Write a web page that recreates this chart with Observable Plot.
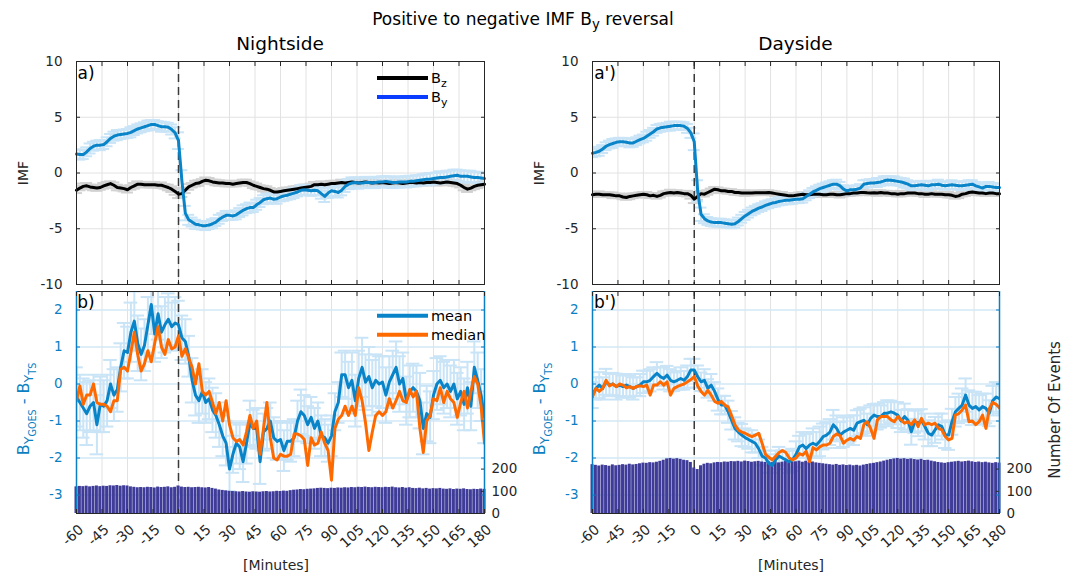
<!DOCTYPE html>
<html>
<head>
<meta charset="utf-8">
<script src="https://cdn.jsdelivr.net/npm/d3@7"></script>
<script src="https://cdn.jsdelivr.net/npm/@observablehq/plot@0.6"></script>
<style>
  body { margin: 0; background: #fff; }
  #fig { position: relative; width: 1075px; height: 573px; overflow: hidden;
         font-family: "DejaVu Sans", sans-serif; color: #262626; background: #fff; }
  #fig > svg { position: absolute; left: 0; top: 0; }
  .t { position: absolute; white-space: nowrap; line-height: 1; }
  .s1 { font-size: 0.78em; position: relative; top: 0.32em; }
  .s2 { font-size: 0.72em; position: relative; top: 0.3em; }
  .y1 { font-size: 0.8em; position: relative; top: 0.3em; }
  .y2 { font-size: 0.75em; position: relative; top: 0.3em; }
</style>
</head>
<body>
<div id="fig"></div>
<script>
// ---- time axis (minutes relative to the IMF By reversal) ----
const minutes = d3.range(-60, 181, 2);
const xTicks = d3.range(-60, 181, 15);

// ---- IMF, nightside events ----
const byNight = [1.7,1.65,1.65,1.9,2.2,2.4,2.5,2.5,2.55,2.8, 3.1,3.3,3.4,3.45,3.5,3.55,3.65,3.8,3.95,4.05,
  4.15,4.25,4.35,4.35,4.25,4.15,4.15,4.1,3.9,3.6, 2.9,-0.7,-3.6,-4.2,-4.4,-4.6,-4.65,-4.72,-4.72,-4.67,
  -4.55,-4.4,-4.15,-3.95,-3.8,-3.8,-3.85,-3.75,-3.55,-3.35, -3.2,-3.1,-3.1,-2.85,-2.65,-2.4,-2.3,-2.25,-2.35,-2.3,
  -2.15,-2.05,-2.0,-1.9,-1.8,-1.7,-1.55,-1.5,-1.55,-1.6, -1.55,-1.6,-1.85,-2.1,-1.8,-1.6,-1.65,-1.75,-1.55,-1.2,
  -1.0,-0.9,-0.85,-0.9,-0.9,-0.85,-0.85,-0.9,-0.85,-0.8, -0.8,-0.75,-0.8,-0.85,-0.85,-0.8,-0.8,-0.8,-0.75,-0.75,
  -0.7,-0.65,-0.6,-0.55,-0.55,-0.5,-0.45,-0.4,-0.4,-0.35, -0.3,-0.25,-0.2,-0.3,-0.3,-0.3,-0.35,-0.4,-0.4,-0.45, -0.5];
const byNightErr = [0.4,0.45,0.4,0.4,0.45,0.4,0.4,0.45,0.4,0.4, 0.4,0.4,0.45,0.4,0.4,0.4,0.45,0.4,0.4,0.4,
  0.4,0.45,0.4,0.4,0.4,0.45,0.4,0.4,0.45,0.5, 0.75,0.95,0.65,0.45,0.4,0.4,0.35,0.35,0.4,0.35,
  0.4,0.35,0.4,0.35,0.4,0.4,0.35,0.4,0.4,0.45, 0.4,0.45,0.4,0.45,0.4,0.4,0.45,0.4,0.4,0.45,
  0.4,0.45,0.4,0.45,0.45,0.4,0.45,0.45,0.4,0.45, 0.45,0.4,0.45,0.5,0.45,0.45,0.5,0.45,0.45,0.5,
  0.45,0.5,0.45,0.5,0.45,0.5,0.5,0.45,0.5,0.45, 0.5,0.45,0.5,0.5,0.45,0.5,0.45,0.5,0.5,0.45,
  0.5,0.45,0.5,0.5,0.55,0.5,0.5,0.55,0.5,0.55, 0.5,0.55,0.5,0.55,0.5,0.5,0.55,0.5,0.5,0.55, 0.5];
const bzNight = [-1.55,-1.35,-1.2,-1.15,-1.25,-1.3,-1.35,-1.3,-1.15,-1.05, -0.95,-1.1,-1.3,-1.35,-1.4,-1.5,-1.3,-1.15,-1.0,-1.0,
  -1.05,-1.05,-1.05,-1.05,-1.1,-1.1,-1.2,-1.3,-1.45,-1.65, -1.9,-1.85,-1.55,-1.25,-1.1,-0.95,-0.9,-0.75,-0.65,-0.7,
  -0.8,-0.85,-0.9,-0.9,-0.95,-0.95,-1.0,-0.95,-0.9,-0.85, -0.85,-0.95,-1.1,-1.2,-1.3,-1.4,-1.45,-1.55,-1.7,-1.7,
  -1.65,-1.6,-1.55,-1.5,-1.45,-1.4,-1.35,-1.3,-1.25,-1.2, -1.05,-1.05,-1.0,-1.05,-1.0,-0.95,-0.95,-0.9,-0.85,-0.9,
  -0.85,-0.8,-0.85,-0.9,-0.85,-0.8,-0.85,-0.9,-0.85,-0.9, -0.85,-0.9,-0.95,-0.9,-0.85,-0.9,-0.95,-0.9,-0.85,-0.85,
  -0.9,-0.85,-0.9,-0.85,-0.85,-0.8,-0.85,-0.9,-0.85,-0.8, -0.85,-0.9,-0.95,-1.1,-1.3,-1.45,-1.35,-1.2,-1.1,-1.05, -1.0];
const bzNightErr = [0.25,0.2,0.25,0.25,0.2,0.25,0.25,0.2,0.25,0.25, 0.2,0.25,0.25,0.2,0.25,0.25,0.2,0.25,0.25,0.2,
  0.25,0.2,0.25,0.25,0.2,0.25,0.2,0.25,0.25,0.3, 0.35,0.3,0.25,0.25,0.2,0.25,0.25,0.2,0.25,0.25,
  0.2,0.25,0.25,0.2,0.25,0.25,0.2,0.25,0.2,0.25, 0.25,0.2,0.25,0.25,0.2,0.25,0.25,0.2,0.25,0.25,
  0.2,0.25,0.25,0.2,0.25,0.2,0.25,0.25,0.2,0.25, 0.25,0.2,0.25,0.25,0.2,0.25,0.25,0.2,0.25,0.2,
  0.25,0.25,0.2,0.25,0.25,0.2,0.25,0.25,0.2,0.25, 0.25,0.2,0.25,0.2,0.25,0.25,0.2,0.25,0.25,0.2,
  0.25,0.25,0.2,0.25,0.25,0.2,0.25,0.2,0.25,0.25, 0.2,0.25,0.25,0.2,0.25,0.25,0.2,0.25,0.25,0.2, 0.25];

// ---- IMF, dayside events ----
const byDay = [1.77,1.85,1.95,2.15,2.4,2.55,2.65,2.75,2.8,2.8, 2.75,2.7,2.7,2.85,3.0,3.1,3.3,3.5,3.7,3.95,
  4.05,4.1,4.15,4.2,4.25,4.25,4.25,4.2,4.0,3.6, 2.8,-1.6,-3.7,-4.1,-4.3,-4.4,-4.45,-4.45,-4.45,-4.5,
  -4.55,-4.6,-4.55,-4.35,-4.1,-3.85,-3.65,-3.45,-3.3,-3.15, -3.05,-2.9,-2.8,-2.7,-2.65,-2.55,-2.5,-2.45,-2.45,-2.4,
  -2.35,-2.35,-2.3,-2.1,-1.9,-1.7,-1.55,-1.4,-1.3,-1.2, -1.1,-1.0,-1.0,-1.15,-1.45,-1.6,-1.5,-1.5,-1.45,-1.35,
  -1.0,-0.95,-0.9,-0.9,-0.85,-0.8,-0.7,-0.63,-0.65,-0.7, -0.75,-0.8,-0.9,-1.0,-1.15,-1.15,-1.1,-1.05,-1.1,-1.15,
  -1.05,-1.05,-1.0,-1.1,-1.15,-1.1,-1.05,-1.1,-1.15,-1.15, -1.1,-1.05,-1.0,-1.15,-1.25,-1.35,-1.2,-1.2,-1.25,-1.3, -1.3];
const byDayErr = [0.35,0.35,0.4,0.35,0.35,0.35,0.4,0.35,0.35,0.35, 0.35,0.4,0.35,0.35,0.35,0.35,0.4,0.35,0.35,0.35,
  0.35,0.35,0.35,0.4,0.35,0.35,0.35,0.35,0.4,0.45, 0.75,0.95,0.6,0.4,0.35,0.35,0.35,0.35,0.35,0.35,
  0.35,0.35,0.35,0.35,0.35,0.35,0.35,0.35,0.35,0.35, 0.35,0.35,0.35,0.35,0.35,0.35,0.35,0.35,0.35,0.35,
  0.35,0.35,0.35,0.35,0.35,0.35,0.35,0.35,0.35,0.35, 0.35,0.35,0.4,0.35,0.35,0.35,0.35,0.35,0.35,0.35,
  0.35,0.35,0.35,0.35,0.4,0.35,0.4,0.35,0.35,0.4, 0.35,0.35,0.4,0.35,0.35,0.4,0.35,0.35,0.35,0.4,
  0.35,0.35,0.4,0.35,0.35,0.35,0.4,0.35,0.35,0.4, 0.35,0.4,0.35,0.35,0.4,0.35,0.35,0.4,0.35,0.35, 0.35];
const bzDay = [-1.95,-1.9,-1.9,-1.95,-1.95,-1.95,-2.0,-2.05,-2.05,-2.15, -2.2,-2.1,-2.05,-2.0,-1.95,-1.9,-1.95,-2.05,-2.0,-2.1,
  -2.0,-1.85,-1.8,-1.75,-1.8,-1.75,-1.8,-1.85,-1.85,-2.0, -2.35,-2.1,-1.85,-1.9,-1.75,-1.6,-1.45,-1.5,-1.6,-1.6,
  -1.65,-1.65,-1.75,-1.75,-1.8,-1.8,-1.8,-1.8,-1.78,-1.78, -1.78,-1.78,-1.75,-1.8,-1.85,-1.9,-1.95,-2.0,-2.05,-2.05,
  -2.0,-1.95,-1.9,-1.95,-1.95,-1.9,-1.9,-1.9,-1.95,-1.95, -1.9,-1.9,-1.95,-1.95,-1.9,-1.85,-1.85,-1.8,-1.8,-1.75,
  -1.75,-1.78,-1.8,-1.78,-1.8,-1.75,-1.8,-1.8,-1.85,-1.85, -1.9,-1.85,-1.85,-1.8,-1.8,-1.8,-1.85,-1.85,-1.9,-1.9,
  -1.85,-1.9,-1.9,-1.9,-1.95,-1.95,-2.0,-2.1,-2.05,-1.9, -1.85,-1.75,-1.7,-1.75,-1.8,-1.8,-1.85,-1.8,-1.8,-1.85, -1.85];
const bzDayErr = [0.2,0.2,0.25,0.2,0.2,0.2,0.25,0.2,0.2,0.2, 0.2,0.25,0.2,0.2,0.2,0.2,0.25,0.2,0.2,0.2,
  0.2,0.2,0.2,0.25,0.2,0.2,0.2,0.2,0.25,0.3, 0.35,0.3,0.25,0.2,0.2,0.2,0.2,0.2,0.2,0.2,
  0.2,0.2,0.2,0.2,0.2,0.25,0.2,0.2,0.2,0.2, 0.2,0.2,0.2,0.2,0.2,0.2,0.25,0.2,0.2,0.2,
  0.2,0.2,0.2,0.2,0.25,0.2,0.2,0.2,0.2,0.2, 0.2,0.2,0.2,0.25,0.2,0.2,0.2,0.2,0.2,0.2,
  0.2,0.2,0.2,0.2,0.25,0.2,0.2,0.2,0.2,0.2, 0.2,0.25,0.2,0.2,0.2,0.2,0.2,0.2,0.25,0.2,
  0.2,0.2,0.2,0.2,0.2,0.25,0.2,0.2,0.2,0.2, 0.2,0.2,0.25,0.2,0.2,0.2,0.2,0.2,0.2,0.2, 0.2];

// ---- By(GOES) - By(TS), nightside ----
const meanNight = [-0.35,-0.5,-0.65,-0.8,-0.6,-0.5,-1.1,-0.55,-0.6,-0.45, 0.0,-0.3,-0.15,0.45,0.9,0.85,1.4,1.7,1.1,0.8,
  1.05,1.6,2.15,1.35,1.9,1.4,1.6,1.75,1.55,1.65, 1.6,1.25,1.15,0.75,0.1,-0.3,-0.45,-0.2,-0.5,-0.4,
  -0.7,-0.85,-1.1,-1.4,-1.6,-2.3,-1.9,-1.6,-1.7,-2.1, -1.6,-1.05,-1.2,-1.2,-2.1,-1.3,-1.2,-1.0,-1.45,-1.55,
  -1.5,-1.8,-1.55,-1.55,-1.45,-1.0,-0.75,-0.85,-1.1,-0.9, -1.2,-1.0,-1.4,-1.45,-1.6,-1.4,-0.75,-0.5,0.25,0.25,
  -0.1,0.1,-0.45,0.15,0.45,0.05,0.2,-0.1,0.1,0.0, 0.05,-0.3,0.05,0.25,0.45,0.0,0.15,-0.45,-0.2,-0.1,
  -0.2,-0.45,-1.2,-0.8,-0.9,-0.3,0.0,0.1,-0.1,0.0, -0.2,0.0,-0.4,-0.2,-0.55,-0.1,-0.6,0.45,0.1,-0.3, -0.9];
const medianNight = [-0.45,-0.05,-0.55,-0.3,-0.3,0.0,-0.5,-0.55,-0.55,-0.6, -0.75,-0.45,-0.45,0.4,0.45,0.35,0.85,1.4,0.8,0.35,
  0.55,0.9,0.6,1.1,1.55,1.0,0.8,1.2,0.95,1.0, 1.3,0.75,0.95,0.7,0.45,0.0,0.55,-0.2,-0.3,-0.2,
  -0.5,-0.8,-0.5,-1.0,-0.45,-1.1,-1.45,-1.55,-1.5,-1.65, -1.3,-0.85,-1.2,-1.0,-1.9,-1.2,-0.5,-1.45,-2.0,-2.05,
  -1.9,-1.95,-1.95,-1.9,-1.35,-1.35,-1.4,-1.5,-2.2,-1.45, -1.65,-1.6,-1.3,-1.6,-1.8,-2.6,-1.2,-0.95,-0.85,-0.6,
  -0.85,-0.6,-0.85,-0.1,-0.45,-1.05,-1.8,-1.3,-0.85,-0.75, -0.85,-0.75,-0.4,-0.65,-0.45,-0.2,-0.45,-0.5,-0.15,-0.35,
  -0.2,-1.2,-1.85,-1.0,-0.85,-0.4,-0.45,-0.1,-0.5,-0.2, -0.4,-0.5,-0.9,-0.5,-0.2,-0.65,-0.2,0.2,0.0,-0.6, -1.6];
const errNight = [0.8,0.75,0.8,0.85,0.7,0.75,0.8,0.75,0.7,0.7, 0.65,0.7,0.6,0.65,0.75,0.7,0.8,0.8,0.75,0.7,
  0.7,0.75,0.8,0.75,0.7,0.7,0.75,0.7,0.65,0.7, 0.65,0.6,0.6,0.55,0.6,0.55,0.6,0.6,0.55,0.55,
  0.6,0.6,0.6,0.55,0.6,0.6,0.5,0.55,0.6,0.55, 0.55,0.6,0.5,0.55,0.6,0.5,0.55,0.5,0.55,0.5,
  0.5,0.55,0.5,0.55,0.5,0.55,0.6,0.55,0.5,0.55, 0.55,0.5,0.55,0.5,0.5,0.55,0.5,0.55,0.6,0.65,
  0.7,0.75,0.7,0.75,0.8,0.75,0.8,0.75,0.7,0.75, 0.7,0.75,0.7,0.65,0.7,0.75,0.7,0.65,0.7,0.65,
  0.7,0.75,0.7,0.75,0.7,0.65,0.7,0.65,0.7,0.65, 0.7,0.65,0.7,0.65,0.7,0.7,0.65,0.7,0.75,0.7, 0.7];
const eventsNight = [120,122,121,123,120,122,124,121,123,122, 125,124,126,123,125,124,120,118,116,117,
  116,118,117,115,119,117,118,120,116,118, 124,119,117,118,116,117,118,116,115,117,
  113,110,106,104,102,100,99,98,97,99, 97,96,98,97,96,98,99,97,98,100,
  99,101,100,103,105,106,108,107,109,110, 111,113,114,113,112,114,113,115,114,116,
  115,117,116,118,117,119,117,116,118,117, 116,118,117,119,116,115,117,114,116,113,
  112,114,111,113,110,112,111,113,110,109, 111,108,110,109,111,108,107,109,108,110, 109];

// ---- By(GOES) - By(TS), dayside ----
const meanDay = [-0.3,-0.12,-0.03,-0.12,0.06,-0.03,0.0,-0.07,-0.03,-0.07, -0.03,-0.07,-0.12,-0.07,-0.03,0.06,0.06,0.1,0.2,0.29,
  0.2,0.15,0.24,0.1,0.06,0.1,0.15,0.1,0.2,0.38, 0.38,0.2,0.06,0.1,-0.12,-0.03,-0.2,-0.42,-0.57,-0.57,
  -0.75,-0.98,-1.2,-1.3,-1.38,-1.45,-1.5,-1.55,-1.6,-1.75, -1.95,-2.0,-2.15,-2.2,-2.05,-1.95,-2.0,-2.05,-2.1,-2.05,
  -1.9,-1.7,-1.65,-1.75,-1.65,-1.6,-1.65,-1.55,-1.42,-1.38, -1.3,-1.1,-1.2,-1.38,-1.3,-1.25,-1.2,-1.25,-1.06,-1.02,
  -0.98,-1.1,-0.93,-0.84,-0.88,-0.88,-0.79,-0.79,-0.75,-0.79, -0.84,-1.0,-0.88,-0.98,-1.29,-1.02,-1.06,-0.98,-1.15,-1.33,
  -1.38,-1.24,-1.1,-1.15,-1.38,-1.38,-1.02,-0.75,-0.66,-0.57, -0.3,-0.57,-0.66,-0.61,-0.7,-0.61,-0.66,-0.79,-0.45,-0.35, -0.4];
const medianDay = [-0.35,-0.12,-0.2,-0.12,0.1,-0.05,0.0,-0.07,0.0,-0.03, -0.1,-0.07,-0.12,-0.07,-0.05,-0.07,-0.03,-0.3,-0.03,-0.03,
  0.06,-0.03,0.06,-0.3,-0.12,-0.07,-0.03,0.0,0.06,0.12, 0.2,-0.05,-0.2,-0.3,-0.17,-0.3,-0.47,-0.52,-0.47,-0.57,
  -0.62,-0.85,-1.1,-1.24,-1.3,-1.33,-1.38,-1.42,-1.38,-1.33, -1.6,-1.9,-1.98,-2.05,-1.95,-1.85,-1.8,-1.85,-2.0,-2.05,
  -2.0,-1.88,-1.92,-1.82,-2.1,-1.72,-1.78,-1.7,-1.65,-1.65, -1.6,-1.42,-1.35,-1.4,-1.6,-1.52,-1.47,-1.52,-1.42,-1.47,
  -1.1,-1.02,-1.2,-1.47,-0.97,-0.88,-0.88,-0.88,-0.97,-1.02, -0.88,-0.97,-1.06,-1.02,-1.1,-0.97,-1.15,-0.93,-1.1,-1.06,
  -1.1,-1.06,-1.2,-1.24,-1.42,-1.51,-1.47,-0.84,-0.8,-0.7, -0.57,-1.02,-1.0,-1.1,-1.02,-0.84,-1.2,-0.66,-0.5,-0.55, -0.65];
const errDay = [0.35,0.3,0.35,0.3,0.35,0.3,0.3,0.35,0.3,0.3, 0.3,0.3,0.3,0.25,0.3,0.3,0.3,0.3,0.25,0.3,
  0.25,0.3,0.25,0.3,0.25,0.25,0.3,0.25,0.3,0.3, 0.3,0.3,0.25,0.3,0.25,0.3,0.25,0.3,0.25,0.25,
  0.3,0.25,0.3,0.25,0.3,0.25,0.25,0.3,0.25,0.25, 0.25,0.2,0.25,0.2,0.25,0.25,0.2,0.25,0.3,0.3,
  0.35,0.3,0.35,0.4,0.35,0.4,0.35,0.4,0.35,0.35, 0.35,0.4,0.35,0.35,0.4,0.35,0.35,0.4,0.35,0.35,
  0.35,0.3,0.35,0.3,0.35,0.3,0.3,0.35,0.3,0.3, 0.35,0.3,0.35,0.3,0.35,0.3,0.35,0.3,0.35,0.35,
  0.3,0.35,0.3,0.35,0.35,0.4,0.35,0.4,0.4,0.45, 0.45,0.4,0.45,0.4,0.4,0.35,0.4,0.35,0.4,0.4, 0.4];
const eventsDay = [220,217,214,218,216,213,219,215,217,220, 218,222,219,221,224,227,226,229,228,231,
  235,240,246,248,245,247,244,240,238,230, 205,198,215,222,226,224,228,230,229,232,
  231,234,233,235,232,236,234,231,233,235, 232,230,233,229,232,228,231,234,229,232,
  233,236,231,235,230,232,228,226,224,222, 220,218,221,217,219,216,218,215,217,214,
  218,221,224,226,229,232,236,240,243,246, 248,245,247,244,246,243,241,244,239,240,
  236,233,230,228,226,229,231,233,235,232, 234,236,233,230,232,229,231,228,226,229, 227];

// ---- styling ----
const cBy = "#0a84c8", cMedian = "#ff6a00", cErr = "#c9e4f6", cBzErr = "#d2d2d2";
const cBar = "#3e3c98", cBlue = "#0b7fc2", cGrid = "#e2e2e2", cGridBlue = "#d2e8f7", cInk = "#262626";

// ---- layout ----
const W = 1075, H = 573;
const cols = [{left: 76, right: 484}, {left: 592, right: 999}];
const rowTop = {top: 61, bottom: 284}, rowBot = {top: 291, bottom: 513};
const fig = document.getElementById("fig");

function frameOpts(col, row) {
  return {
    width: W, height: H,
    marginLeft: col.left, marginRight: W - col.right,
    marginTop: row.top, marginBottom: H - row.bottom,
    style: {background: "transparent", fontFamily: "DejaVu Sans, sans-serif", fontSize: "13.5px", color: cInk, overflow: "visible"}
  };
}
function add(col, row, opts) {
  fig.appendChild(Plot.plot({...frameOpts(col, row), ...opts}));
}
function errorBars(data, key, errKey, color, cap = 3.5) {
  const lo = d => d[key] - d[errKey], hi = d => d[key] + d[errKey];
  const common = {stroke: color, strokeWidth: 2, clip: true};
  return [
    Plot.ruleX(data, {x: "t", y1: lo, y2: hi, ...common}),
    Plot.ruleY(data, {y: lo, x1: d => d.t - cap, x2: d => d.t + cap, ...common}),
    Plot.ruleY(data, {y: hi, x1: d => d.t - cap, x2: d => d.t + cap, ...common})
  ];
}
const fmt = d => String(d);
const blank = () => "";
const zeroLine = Plot.ruleX([0], {stroke: "#3a3a3a", strokeWidth: 1.5, strokeDasharray: "8,5"});
// rotated minute labels under the bottom axis
const minuteLabels = Plot.text(xTicks, {
  x: d => d, text: fmt, frameAnchor: "bottom", textAnchor: "end", lineAnchor: "middle",
  rotate: -42, dx: 5, dy: 14, fontSize: 14, fill: cInk
});

// ---- IMF panels ----
function imfPanel(col, by, byErr, bz, bzErr) {
  const data = minutes.map((t, i) => ({t, by: by[i], eby: byErr[i], bz: bz[i], ebz: bzErr[i]}));
  add(col, rowTop, {
    x: {domain: [-60, 180]},
    y: {domain: [-10, 10]},
    marks: [
      Plot.gridX(xTicks, {stroke: cGrid, strokeOpacity: 1}),
      Plot.gridY([-5, 0, 5], {stroke: cGrid, strokeOpacity: 1}),
      ...errorBars(data, "bz", "ebz", cBzErr),
      ...errorBars(data, "by", "eby", cErr),
      zeroLine,
      Plot.lineY(data, {x: "t", y: "bz", stroke: "#000", strokeWidth: 3}),
      Plot.lineY(data, {x: "t", y: "by", stroke: cBy, strokeWidth: 3}),
      Plot.frame({stroke: cInk}),
      Plot.axisY({anchor: "left", ticks: [-10, -5, 0, 5, 10], tickSize: -4, tickPadding: 18, tickFormat: fmt, label: null}),
      Plot.axisY({anchor: "right", ticks: [-10, -5, 0, 5, 10], tickSize: -4, tickFormat: blank, label: null}),
      Plot.axisX({anchor: "top", ticks: xTicks, tickSize: -4, tickFormat: blank, label: null}),
      Plot.axisX({anchor: "bottom", ticks: xTicks, tickSize: -4, tickFormat: blank, label: null})
    ]
  });
}

// ---- By difference panels with event counts ----
function diffPanel(col, mean, median, err, events) {
  const data = minutes.map((t, i) => ({t, mean: mean[i], median: median[i], err: err[i]}));
  const counts = minutes.map((t, i) => ({t, n: events[i]}));
  // grid, error bars and the reversal line sit underneath the event counts
  add(col, rowBot, {
    x: {domain: [-60, 180], axis: null},
    y: {domain: [-3.5, 2.5], axis: null},
    marks: [
      Plot.gridX(xTicks, {stroke: cGrid, strokeOpacity: 1}),
      Plot.gridY([-3, -2, -1, 0, 1, 2], {stroke: cGridBlue, strokeOpacity: 1, strokeWidth: 1.5}),
      ...errorBars(data, "mean", "err", cErr, 4),
      zeroLine
    ]
  });
  // number of events, right axis
  add(col, rowBot, {
    x: {domain: [-60, 180], axis: null},
    y: {domain: [0, 1000]},
    marks: [
      Plot.rectY(counts, {x1: d => d.t - 1, x2: d => d.t + 1, y: "n", fill: cBar, insetLeft: 0.2, insetRight: 0.2}),
      Plot.axisY({anchor: "right", ticks: [0, 100, 200], tickSize: -4, tickPadding: 11, tickFormat: fmt, label: null})
    ]
  });
  // mean / median curves and axes on top
  add(col, rowBot, {
    x: {domain: [-60, 180]},
    y: {domain: [-3.5, 2.5]},
    marks: [
      Plot.lineY(data, {x: "t", y: "mean", stroke: cBy, strokeWidth: 3, clip: true}),
      Plot.lineY(data, {x: "t", y: "median", stroke: cMedian, strokeWidth: 3, clip: true}),
      Plot.ruleY([-3.5, 2.5], {stroke: cInk}),
      Plot.ruleX([-60, 180], {stroke: cBlue, strokeWidth: 1.5}),
      Plot.axisY({anchor: "left", ticks: [-3, -2, -1, 0, 1, 2], tickSize: -4, tickPadding: 18, tickFormat: fmt, label: null, color: cBlue}),
      Plot.axisY({anchor: "right", ticks: [-3, -2, -1, 0, 1, 2], tickSize: -4, tickFormat: blank, label: null, color: cBlue}),
      Plot.axisX({anchor: "top", ticks: xTicks, tickSize: -4, tickFormat: blank, label: null}),
      Plot.axisX({anchor: "bottom", ticks: xTicks, tickSize: -4, tickFormat: blank, label: null}),
      minuteLabels
    ]
  });
}

imfPanel(cols[0], byNight, byNightErr, bzNight, bzNightErr);
imfPanel(cols[1], byDay, byDayErr, bzDay, bzDayErr);
diffPanel(cols[0], meanNight, medianNight, errNight, eventsNight);
diffPanel(cols[1], meanDay, medianDay, errDay, eventsDay);

// ---- legends (drawn over the left column) ----
const ov = d3.select(fig).append("svg").attr("width", W).attr("height", H)
  .style("font-family", "DejaVu Sans, sans-serif").style("fill", "#000");
function legendRow(y, color, html) {
  ov.append("line").attr("x1", 377).attr("x2", 428).attr("y1", y).attr("y2", y)
    .attr("stroke", color).attr("stroke-width", 4);
  const t = ov.append("text").attr("x", 431).attr("y", y + 5).attr("font-size", 14.5);
  html(t);
}
legendRow(78, "#000", t => { t.append("tspan").text("B"); t.append("tspan").attr("font-size", 11).attr("dy", 4).text("z"); });
legendRow(97, "#0a3cff", t => { t.append("tspan").text("B"); t.append("tspan").attr("font-size", 11).attr("dy", 4).text("y"); });
legendRow(315.7, cBy, t => t.text("mean"));
legendRow(334.7, cMedian, t => t.text("median"));

// ---- text ----
function text(html, x, y, {size = 14, color = cInk, rotate = 0} = {}) {
  const d = document.createElement("div");
  d.className = "t";
  d.innerHTML = html;
  d.style.left = x + "px"; d.style.top = y + "px";
  d.style.fontSize = size + "px"; d.style.color = color;
  d.style.transform = `translate(-50%, -50%) rotate(${rotate}deg)`;
  fig.appendChild(d);
}
text('Positive to negative IMF B<span class="s1">y</span> reversal', 523, 19, {size: 17, color: "#000"});
text("Nightside", 280, 44, {size: 18.5, color: "#000"});
text("Dayside", 795.5, 44, {size: 18.5, color: "#000"});
text("a)", 86, 73, {size: 17, color: "#000"});
text("a')", 605, 73, {size: 17, color: "#000"});
text("b)", 86, 302, {size: 17, color: "#000"});
text("b')", 605, 302, {size: 17, color: "#000"});
text("IMF", 23, 173, {size: 14, rotate: -90});
text("IMF", 539, 173, {size: 14, rotate: -90});
const yLab = 'B<span class="y1">Y<span class="y2">GOES</span></span> - B<span class="y1">Y<span class="y2">TS</span></span>';
text(yLab, 24, 409, {size: 16, color: cBlue, rotate: -90});
text(yLab, 540, 409, {size: 16, color: cBlue, rotate: -90});
text("Number Of Events", 1055, 410, {size: 15, rotate: -90});
text("[Minutes]", 276, 565, {size: 14});
text("[Minutes]", 791, 565, {size: 14});
</script>
</body>
</html>
